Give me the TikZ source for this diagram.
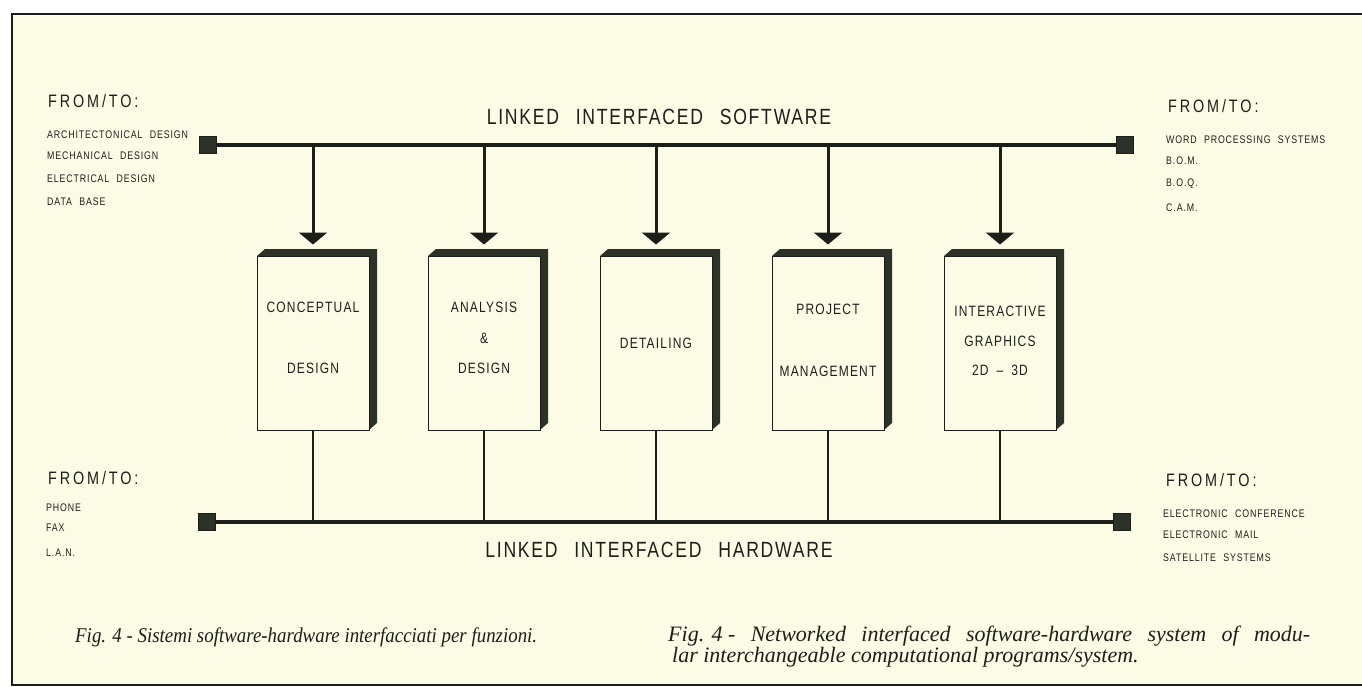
\documentclass[tikz,border=0pt]{standalone}
\usepackage{fontspec}
\setmainfont{Liberation Serif}
\newfontfamily\tech[FakeStretch=0.8,LetterSpace=8]{Liberation Sans}
\newfontfamily\techwide[FakeStretch=0.8,LetterSpace=16]{Liberation Sans}
\newfontfamily\capfont[FakeStretch=0.9]{Liberation Serif}
\usetikzlibrary{arrows.meta,calc}

\definecolor{paper}{RGB}{252,252,230}
\definecolor{ink}{RGB}{28,30,26}
\definecolor{darkface}{RGB}{44,50,40}

\begin{document}
\begin{tikzpicture}[x=1pt,y=-1pt,
  bus/.style={draw=ink, line width=4pt},
  tap/.style={draw=ink, line width=3pt, -{Triangle[width=28pt,length=12pt]}, shorten >=11pt},
  drop/.style={draw=ink, line width=2.5pt},
  term/.style={fill=darkface, draw=ink, line width=0.8pt, minimum size=17pt, inner sep=0pt},
  module/.style={draw=ink, line width=1pt, fill=paper, minimum width=112pt, minimum height=174pt, inner sep=0pt},
  extrusion/.style={fill=darkface},
  modtext/.style={font=\tech\fontsize{15}{18}\selectfont, text=ink},
  title/.style={font=\tech\fontsize{22}{26}\selectfont, text=ink},
  fromto/.style={font=\techwide\fontsize{18}{20}\selectfont, text=ink, anchor=west, inner sep=0pt},
  item/.style={font=\tech\fontsize{11}{12}\selectfont, text=ink, anchor=west, inner sep=0pt},
  caption/.style={font=\capfont\itshape\fontsize{21}{20}\selectfont, text=ink, inner sep=0pt},
  captionwide/.style={font=\itshape\fontsize{22}{20}\selectfont, text=ink, inner sep=0pt}]

\useasboundingbox (0,0) rectangle (1362,687);
\fill[white] (0,0) rectangle (1362,687);
\fill[paper] (12,14) rectangle (1362,685);
\draw[ink, line width=1.5pt] (1362,14) -- (12,14) -- (12,685) -- (1362,685);

% software and hardware buses with their terminals
\node[term] (swL) at (208,145) {};
\node[term] (swR) at (1125,145) {};
\node[term] (hwL) at (207,522) {};
\node[term] (hwR) at (1122,522) {};
\draw[bus] (swL) -- (swR);
\draw[bus] (hwL) -- (hwR);

\node[title] (swtitle) at (659,117) {LINKED\hspace{10pt} INTERFACED\hspace{10pt} SOFTWARE};
\node[title] (hwtitle) at (659,550) {LINKED\hspace{10pt} INTERFACED\hspace{10pt} HARDWARE};

% the five program modules, each with a dark extruded top and side
\foreach \i/\x in {1/313, 2/484, 3/656, 4/828, 5/1000}{
  \coordinate (c\i) at (\x,343);
  \fill[extrusion] ($(c\i)+(-56,-87)$) -- ++(8,-7) -- ++(112,0) -- ++(0,174) -- ++(-8,7) -- ++(0,-174) -- cycle;
  \node[module] (m\i) at (c\i) {};
  \coordinate (s\i) at (m\i.north |- swL);
  \coordinate (h\i) at (m\i.south |- hwL);
  \draw[tap] (s\i) -- (m\i.north);
  \draw[drop] (m\i.south) -- (h\i);
}

\node[modtext] (t1a) at (313,307) {CONCEPTUAL};
\node[modtext] (t1b) at (313,368) {DESIGN};
\node[modtext] (t2a) at (484,307) {ANALYSIS};
\node[modtext] (t2b) at (484,338) {\&};
\node[modtext] (t2c) at (484,368) {DESIGN};
\node[modtext] (t3a) at (656,343) {DETAILING};
\node[modtext] (t4a) at (828,309) {PROJECT};
\node[modtext] (t4b) at (828,371) {MANAGEMENT};
\node[modtext] (t5a) at (1000,311) {INTERACTIVE};
\node[modtext] (t5b) at (1000,341) {GRAPHICS};
\node[modtext] (t5c) at (1000,370) {2D\hspace{8pt}–\hspace{8pt}3D};

% external systems
\node[fromto] (ftTL) at (48,101) {FROM/TO:};
\node[item] (iTL1) at (47,135) {ARCHITECTONICAL\hspace{4pt} DESIGN};
\node[item] (iTL2) at (47,156) {MECHANICAL\hspace{4pt} DESIGN};
\node[item] (iTL3) at (47,179) {ELECTRICAL\hspace{4pt} DESIGN};
\node[item] (iTL4) at (47,202) {DATA\hspace{4pt} BASE};

\node[fromto] (ftTR) at (1168,106) {FROM/TO:};
\node[item] (iTR1) at (1166,140) {WORD\hspace{4pt} PROCESSING\hspace{4pt} SYSTEMS};
\node[item] (iTR2) at (1166,161) {B.O.M.};
\node[item] (iTR3) at (1166,184) {B.O.Q.};
\node[item] (iTR4) at (1166,208) {C.A.M.};

\node[fromto] (ftBL) at (48,478) {FROM/TO:};
\node[item] (iBL1) at (46,508) {PHONE};
\node[item] (iBL2) at (46,528) {FAX};
\node[item] (iBL3) at (46,553) {L.A.N.};

\node[fromto] (ftBR) at (1166,480) {FROM/TO:};
\node[item] (iBR1) at (1163,514) {ELECTRONIC\hspace{4pt} CONFERENCE};
\node[item] (iBR2) at (1163,535) {ELECTRONIC\hspace{4pt} MAIL};
\node[item] (iBR3) at (1163,558) {SATELLITE\hspace{4pt} SYSTEMS};

% captions
\node[caption, anchor=west] (capIt) at (75,637) {Fig. 4 - Sistemi software-hardware interfacciati per funzioni.};
\node[captionwide, anchor=north west, align=left] (capEn) at (668,626)
  {\makebox[642pt][s]{\mbox{Fig. 4 -} Networked interfaced software-hardware system of modu-}\\
   \hspace{4pt}lar interchangeable computational programs/system.};
\end{tikzpicture}
\end{document}
